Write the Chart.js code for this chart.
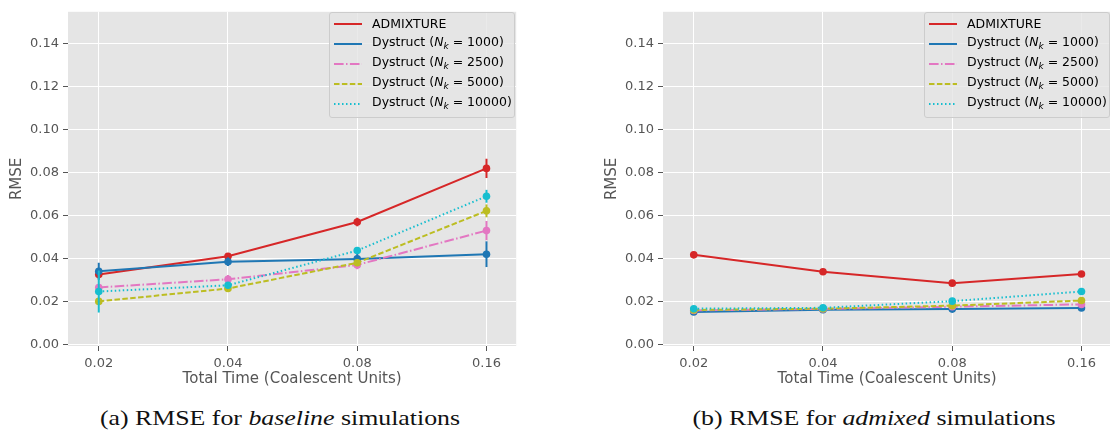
<!DOCTYPE html>
<html>
<head>
<meta charset="utf-8">
<script src="https://cdn.jsdelivr.net/npm/chart.js@4.4.1/dist/chart.umd.min.js"></script>
<style>
  body { margin: 0; width: 1110px; height: 431px; overflow: hidden; background: #fff; font-family: "DejaVu Sans", sans-serif; }
  .panel { position: absolute; top: 0; }
  .legend {
    position: absolute; top: 12px; width: 184px; padding: 1px 0 3px 0;
    background: rgba(229,229,229,0.8); border: 1px solid #cccccc; border-radius: 3px;
    font-size: 12.5px; color: #000;
  }
  .legend .row { height: 20px; line-height: 20px; white-space: nowrap; display: flex; align-items: center; }
  .legend svg { margin-left: 4px; margin-right: 10px; }
  .caption {
    position: absolute; top: 406px; font-family: "Liberation Serif", serif; font-size: 21px; color: #111;
    text-align: center; width: 500px; transform: scaleX(1.23); transform-origin: center;
  }
</style>
</head>
<body>
<canvas id="chartA" class="panel" style="left:0px" width="520" height="392"></canvas>
<canvas id="chartB" class="panel" style="left:595px" width="520" height="392"></canvas>
<div id="legendA" class="legend" style="left:329px"></div>
<div id="legendB" class="legend" style="left:924px"></div>
<div class="caption" style="left:30px">(a) RMSE for <i>baseline</i> simulations</div>
<div class="caption" style="left:624px">(b) RMSE for <i>admixed</i> simulations</div>
<script>
// Axes
const times = ['0.02', '0.04', '0.08', '0.16'];
const yTicks = [0, 0.02, 0.04, 0.06, 0.08, 0.10, 0.12, 0.14];

// Séries
const seriesNames = ['ADMIXTURE', 'Dystruct', 'Dystruct', 'Dystruct', 'Dystruct'];
const nkValues = [null, '1000', '2500', '5000', '10000'];
const colors = ['#d62728', '#1f77b4', '#e377c2', '#bcbd22', '#17becf'];
const dashes = [[], [], [9.6, 2.4, 1.5, 2.4], [5.5, 2.4], [1.5, 2.5]];

// (a) baseline
const baseAdmixture = [0.0325, 0.041, 0.057, 0.082];
const baseNk1000 = [0.034, 0.0385, 0.0398, 0.042];
const baseNk2500 = [0.0265, 0.0303, 0.037, 0.053];
const baseNk5000 = [0.020, 0.026, 0.038, 0.0622];
const baseNk10000 = [0.0246, 0.0275, 0.0437, 0.069];
const baseAdmixtureErr = [0.002, 0.0015, 0.002, 0.0045];
const baseNk1000Err = [0.004, 0.002, 0.003, 0.006];
const baseNk2500Err = [0.0015, 0.002, 0.002, 0.0045];
const baseNk5000Err = [0.0015, 0.0015, 0.0015, 0.003];
const baseNk10000Err = [0.0098, 0.0015, 0.0015, 0.003];

// (b) admixed
const admAdmixture = [0.0417, 0.0338, 0.0285, 0.0328];
const admNk1000 = [0.0151, 0.0161, 0.0164, 0.0169];
const admNk2500 = [0.0158, 0.0165, 0.0175, 0.0186];
const admNk5000 = [0.0160, 0.0166, 0.0180, 0.0204];
const admNk10000 = [0.0166, 0.0170, 0.0201, 0.0246];
const admAdmixtureErr = [0.0006, 0.0006, 0.0006, 0.0006];
const admNk1000Err = [0.0005, 0.0005, 0.0005, 0.0005];
const admNk2500Err = [0.0005, 0.0005, 0.0005, 0.0005];
const admNk5000Err = [0.0005, 0.0005, 0.0005, 0.0005];
const admNk10000Err = [0.0005, 0.0005, 0.0005, 0.0005];

// fond gris de la zone de tracé
const bgPlugin = {
    id: 'bg',
    beforeDraw(chart) {
        const a = chart.chartArea;
        chart.ctx.save();
        chart.ctx.fillStyle = '#e5e5e5';
        chart.ctx.fillRect(a.left, a.top, a.right - a.left, a.bottom - a.top);
        chart.ctx.restore();
    }
};

// barres d'erreur
const errPlugin = {
    id: 'errbars',
    afterDatasetDraw(chart, args) {
        const ds = chart.data.datasets[args.index];
        if (!ds.errors) return;
        const ctx = chart.ctx, xs = chart.scales.x, ys = chart.scales.y;
        ctx.save();
        ctx.strokeStyle = ds.borderColor;
        ctx.lineWidth = 2;
        ds.data.forEach((p, i) => {
            const x = xs.getPixelForValue(p.x);
            ctx.beginPath();
            ctx.moveTo(x, ys.getPixelForValue(p.y - ds.errors[i]));
            ctx.lineTo(x, ys.getPixelForValue(p.y + ds.errors[i]));
            ctx.stroke();
        });
        ctx.restore();
    }
};

function makeChart(id, values, errors) {
    const ctx = document.getElementById(id).getContext('2d');
    return new Chart(ctx, {
        type: 'line',
        data: {
            datasets: values.map((vals, k) => ({
                label: seriesNames[k],
                data: vals.map((v, i) => ({ x: i, y: v })),
                errors: errors[k],
                borderColor: colors[k],
                backgroundColor: colors[k],
                borderWidth: 2,
                borderDash: dashes[k],
                pointRadius: 3.8,
                pointBorderWidth: 0,
                pointHoverRadius: 3.8,
                tension: 0,
                order: values.length - k
            }))
        },
        plugins: [bgPlugin, errPlugin],
        options: {
            responsive: false,
            animation: false,
            layout: { padding: { top: 8, left: 0, right: 0, bottom: 0 } },
            plugins: { legend: { display: false }, tooltip: { enabled: false } },
            scales: {
                x: {
                    type: 'linear',
                    min: -0.238,
                    max: 3.23,
                    afterBuildTicks: s => { s.ticks = times.map((t, i) => ({ value: i })); },
                    afterFit: s => { s.height = 46; },
                    ticks: {
                        callback: v => times[v],
                        color: '#555555',
                        font: { family: 'DejaVu Sans', size: 13 },
                        padding: 5,
                        maxRotation: 0
                    },
                    grid: { color: '#ffffff', lineWidth: 1, tickColor: '#555555', tickLength: 5 },
                    border: { display: false },
                    title: {
                        display: true,
                        text: 'Total Time (Coalescent Units)',
                        color: '#555555',
                        font: { family: 'DejaVu Sans', size: 15 },
                        padding: { top: 0, bottom: 4 }
                    }
                },
                y: {
                    min: -0.0008,
                    max: 0.155,
                    afterBuildTicks: s => { s.ticks = yTicks.map(v => ({ value: v })); },
                    afterFit: s => { s.width = 68; },
                    ticks: {
                        callback: v => v.toFixed(2),
                        color: '#555555',
                        font: { family: 'DejaVu Sans', size: 13 },
                        padding: 4
                    },
                    grid: { color: '#ffffff', lineWidth: 1, tickColor: '#555555', tickLength: 5 },
                    border: { display: false },
                    title: {
                        display: true,
                        text: 'RMSE',
                        color: '#555555',
                        font: { family: 'DejaVu Sans', size: 15 },
                        padding: { top: 8, bottom: 0 }
                    }
                }
            }
        }
    });
}

function makeLegend(id) {
    const box = document.getElementById(id);
    seriesNames.forEach((name, k) => {
        const row = document.createElement('div');
        row.className = 'row';
        const dash = dashes[k].length ? ` stroke-dasharray="${dashes[k].join(' ')}"` : '';
        let label = name;
        if (nkValues[k]) {
            label += ` (<i>N</i><sub style="font-size:9px;vertical-align:-3px;"><i>k</i></sub> = ${nkValues[k]})`;
        }
        row.innerHTML = `<svg width="28" height="10"><line x1="0" y1="5" x2="28" y2="5" stroke="${colors[k]}" stroke-width="2"${dash}/></svg><span>${label}</span>`;
        box.appendChild(row);
    });
}

makeChart('chartA',
    [baseAdmixture, baseNk1000, baseNk2500, baseNk5000, baseNk10000],
    [baseAdmixtureErr, baseNk1000Err, baseNk2500Err, baseNk5000Err, baseNk10000Err]);
makeChart('chartB',
    [admAdmixture, admNk1000, admNk2500, admNk5000, admNk10000],
    [admAdmixtureErr, admNk1000Err, admNk2500Err, admNk5000Err, admNk10000Err]);
makeLegend('legendA');
makeLegend('legendB');
</script>
</body>
</html>
